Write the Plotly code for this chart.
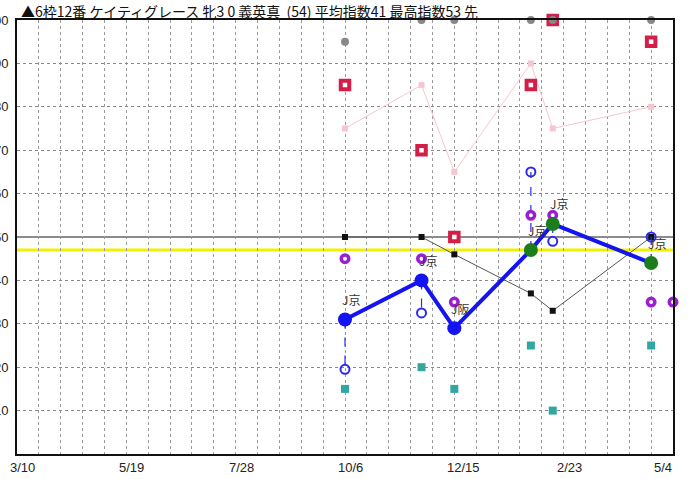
import plotly.graph_objects as go

TITLE = "▲6枠12番 ケイティグレース 牝3 0 義英真  (54) 平均指数41 最高指数53 先"

# x axis (dates) and labels
x_start = "2024-03-10"
x_end = "2025-05-04"
x_tick_dates = ["2024-03-10", "2024-05-19", "2024-07-28", "2024-10-06",
                "2024-12-15", "2025-02-23", "2025-05-04"]
x_tick_labels = ["3/10", "5/19", "7/28", "10/6", "12/15", "2/23", "5/4"]
y_tick_values = [10, 20, 30, 40, 50, 60, 70, 80, 90, 100]

# races
race_dates = ["2024-10-06", "2024-11-24", "2024-12-15",
              "2025-02-02", "2025-02-16", "2025-04-20"]
main_index = [31, 40, 29, 47, 53, 44]
race_labels = ["J京", "J京", "J阪", "J京", "J京", "J京"]
grey_values = [95, 100, 100, 100, 100, 100]
red_values = [85, 70, 50, 85, 100, 95]
pink_values = [75, 85, 65, 90, 75, 80]
black_values = [50, 50, 46, 37, 33, 50]
teal_values = [15, 20, 15, 25, 10, 25]
ring_values = [19.5, 32.5, None, 65, 49, 50]
purple_dates = ["2024-10-06", "2024-11-24", "2024-12-15",
                "2025-02-02", "2025-02-16", "2025-04-20", "2025-05-04"]
purple_values = [45, 45, 35, 55, 55, 35, 35]
yellow_level = 47
ref_level = 50

MAIN_COLORS = ["#1414f0", "#1414f0", "#1414f0", "#1c7d1c", "#1c7d1c", "#1c7d1c"]

fig = go.Figure()

# pink line
fig.add_trace(go.Scatter(x=race_dates, y=pink_values, mode="lines+markers",
                         line=dict(color="#f6c6d0", width=1),
                         marker=dict(symbol="square", size=6, color="#f6c6d0"),
                         cliponaxis=False))
# black line
fig.add_trace(go.Scatter(x=race_dates, y=black_values, mode="lines+markers",
                         line=dict(color="#555555", width=1),
                         marker=dict(symbol="square", size=6, color="#111111"),
                         cliponaxis=False))
# dashed connectors main -> ring
dx, dy = [], []
for d, m, r in zip(race_dates, main_index, ring_values):
    if r is None:
        continue
    dx += [d, d, None]
    dy += [m, r, None]
fig.add_trace(go.Scatter(x=dx, y=dy, mode="lines",
                         line=dict(color="#2a2af0", width=1.2, dash="dash")))
# blue rings
fig.add_trace(go.Scatter(x=race_dates, y=ring_values, mode="markers",
                         marker=dict(symbol="circle-open", size=9,
                                     color="#2a2af0", line=dict(width=2)),
                         cliponaxis=False))
# teal squares
fig.add_trace(go.Scatter(x=race_dates, y=teal_values, mode="markers",
                         marker=dict(symbol="square", size=8, color="#30a8a0"),
                         cliponaxis=False))
# red squares
fig.add_trace(go.Scatter(x=race_dates, y=red_values, mode="markers",
                         marker=dict(symbol="square", size=8.5, color="white",
                                     line=dict(color="#d41e48", width=4)),
                         cliponaxis=False))
# grey dots
fig.add_trace(go.Scatter(x=race_dates, y=grey_values, mode="markers",
                         marker=dict(symbol="circle", size=8, color="#888888"),
                         cliponaxis=False))
# purple circles
fig.add_trace(go.Scatter(x=purple_dates, y=purple_values, mode="markers",
                         marker=dict(symbol="circle", size=7.5, color="white",
                                     line=dict(color="#9a1fd0", width=3.5)),
                         cliponaxis=False))
# main line
fig.add_trace(go.Scatter(x=race_dates, y=main_index, mode="lines+markers",
                         line=dict(color="#1414f0", width=4),
                         marker=dict(symbol="circle", size=14, color=MAIN_COLORS),
                         cliponaxis=False))

annotations = []
for d, v, t in zip(race_dates, main_index, race_labels):
    annotations.append(dict(x=d, y=v, xref="x", yref="y", text=t, showarrow=False,
                            xshift=6, yshift=20,
                            font=dict(size=12, color="#333333",
                                      family="Noto Sans CJK JP")))
for i, (d, t) in enumerate(zip(x_tick_dates, x_tick_labels)):
    last = i == len(x_tick_dates) - 1
    annotations.append(dict(x=d, y=0, xref="x", yref="paper", text=t,
                            showarrow=False,
                            xanchor="right" if last else "left",
                            xshift=1 if last else -9,
                            yanchor="middle", yshift=-13,
                            font=dict(size=13, color="#222222",
                                      family="Liberation Sans")))
annotations.append(dict(x=0, y=1, xref="paper", yref="paper", text=TITLE,
                        showarrow=False, xanchor="left", yanchor="middle",
                        xshift=2, yshift=9,
                        font=dict(size=14, color="#111111",
                                  family="Noto Sans CJK JP")))

shapes = [
    dict(type="line", xref="paper", x0=0, x1=1, yref="y", y0=ref_level, y1=ref_level,
         line=dict(color="#666666", width=1.5), layer="between"),
    dict(type="line", xref="paper", x0=0, x1=1, yref="y", y0=yellow_level, y1=yellow_level,
         line=dict(color="#f2f200", width=3), layer="between"),
]

fig.update_layout(
    width=696, height=479,
    margin=dict(l=17, r=23, t=20, b=25, autoexpand=False),
    paper_bgcolor="white", plot_bgcolor="white",
    showlegend=False,
    annotations=annotations,
    shapes=shapes,
    xaxis=dict(type="date", range=[x_start, x_end], tickmode="linear",
               tick0=x_start, dtick=14 * 86400000, showticklabels=False,
               showgrid=True, gridcolor="#9a9a9a", griddash="dot", gridwidth=1,
               showline=True, mirror=True, linecolor="#111111", linewidth=2,
               zeroline=False, ticks=""),
    yaxis=dict(range=[0, 100], tickmode="array", tickvals=y_tick_values,
               ticktext=[str(v) for v in y_tick_values],
               showgrid=True, gridcolor="#8a8a8a", griddash="dot", gridwidth=1,
               showline=True, mirror=True, linecolor="#111111", linewidth=2,
               zeroline=False, ticks="", automargin=False, ticklabelstandoff=4,
               tickfont=dict(size=13, color="#222222", family="Liberation Sans")),
)

fig.write_html("out.html",
               config={"displayModeBar": False},
               post_script="document.body.style.margin='0';document.body.style.overflow='hidden';")
